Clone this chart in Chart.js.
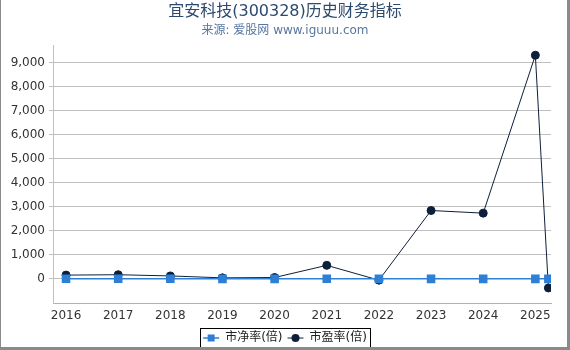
<!DOCTYPE html>
<html>
<head>
<meta charset="utf-8">
<script src="https://cdn.jsdelivr.net/npm/chart.js@4/dist/chart.umd.min.js"></script>
<style>
  html, body { margin: 0; padding: 0; background: #fff; }
  #wrap { position: relative; width: 570px; height: 350px; }
  #frame {
    position: absolute; left: 0; top: 0; width: 566px; height: 347px;
    border-left: 1px solid #8a8a8a; border-right: 3px solid #8a8a8a; border-bottom: 3px solid #8a8a8a;
    pointer-events: none;
  }
</style>
</head>
<body>
<div id="wrap">
  <canvas id="chart" width="570" height="350"></canvas>
  <div id="frame"></div>
</div>
<script>
// x positions (years); the last point is a partial year of 2025
const years = [2016, 2017, 2018, 2019, 2020, 2021, 2022, 2023, 2024, 2025, 2025.25];
const pbValues = [5, 6, 5, 4, 4, 6, 3, 4, 4, 4, 4];
const peValues = [160, 175, 125, 45, 60, 565, -50, 2845, 2735, 9300, -375];
const yTicks = [0, 1000, 2000, 3000, 4000, 5000, 6000, 7000, 8000, 9000];

const FONT = "'DejaVu Sans', 'Noto Sans CJK SC', sans-serif";

// draws a line through the legend markers and a box around the legend items
const legendDecor = {
  id: "legendDecor",
  afterDraw(chart) {
    const lg = chart.legend;
    if (!lg || !lg.legendHitBoxes || !lg.legendHitBoxes.length) return;
    const ctx = chart.ctx;
    const boxes = lg.legendHitBoxes;
    ctx.save();
    boxes.forEach((hb, i) => {
      const ds = chart.data.datasets[i];
      const cy = hb.top + hb.height / 2;
      ctx.strokeStyle = ds.borderColor;
      ctx.lineWidth = ds.borderWidth;
      ctx.beginPath();
      ctx.moveTo(hb.left, cy);
      ctx.lineTo(hb.left + 16, cy);
      ctx.stroke();
      ctx.fillStyle = ds.pointBackgroundColor;
      ctx.beginPath();
      if (ds.pointStyle === "rect") {
        ctx.rect(hb.left + 8 - 3.5, cy - 3.5, 7, 7);
      } else {
        ctx.arc(hb.left + 8, cy, 4, 0, Math.PI * 2);
      }
      ctx.fill();
    });
    const first = boxes[0];
    const last = boxes[boxes.length - 1];
    const left = Math.round(first.left - 3) + 0.5;
    const right = Math.round(last.left + last.width + 3) + 0.5;
    const top = Math.round(first.top - 4) + 0.5;
    const bottom = Math.round(first.top + first.height + 4) + 0.5;
    ctx.strokeStyle = "#000";
    ctx.lineWidth = 1;
    ctx.strokeRect(left, top, right - left, bottom - top);
    ctx.restore();
  }
};

new Chart(document.getElementById("chart"), {
  type: "line",
  data: {
    datasets: [
      {
        label: "市净率(倍)",
        data: years.map((x, i) => ({ x, y: pbValues[i] })),
        borderColor: "#2e7fd6",
        backgroundColor: "#2e7fd6",
        pointBackgroundColor: "#2e7fd6",
        pointBorderColor: "#2e7fd6",
        borderWidth: 1.5,
        pointStyle: "rect",
        pointRadius: 5,
        tension: 0
      },
      {
        label: "市盈率(倍)",
        data: years.map((x, i) => ({ x, y: peValues[i] })),
        borderColor: "#0e1f3a",
        backgroundColor: "#0e1f3a",
        pointBackgroundColor: "#0e1f3a",
        pointBorderColor: "#0e1f3a",
        borderWidth: 1,
        pointStyle: "circle",
        pointRadius: 4,
        tension: 0
      }
    ]
  },
  options: {
    responsive: false,
    animation: false,
    layout: { padding: { left: 0, right: 0, top: 0, bottom: -4 } },
    plugins: {
      title: {
        display: true,
        text: "宜安科技(300328)历史财务指标",
        color: "#2b4a6e",
        font: { family: FONT, size: 16, weight: "normal" },
        padding: { top: 2, bottom: 0 }
      },
      subtitle: {
        display: true,
        text: "来源: 爱股网 www.iguuu.com",
        color: "#5877a0",
        font: { family: FONT, size: 12, weight: "normal" },
        padding: { top: 2, bottom: 8 }
      },
      legend: {
        position: "bottom",
        labels: {
          color: "#222",
          font: { family: FONT, size: 12 },
          boxWidth: 16,
          boxHeight: 12,
          padding: 5,
          generateLabels(chart) {
            return chart.data.datasets.map((ds, i) => ({
              text: ds.label,
              fillStyle: "rgba(0,0,0,0)",
              strokeStyle: "rgba(0,0,0,0)",
              lineWidth: 0,
              datasetIndex: i,
              fontColor: "#222"
            }));
          }
        }
      },
      tooltip: { enabled: false }
    },
    scales: {
      x: {
        type: "linear",
        min: 2015.75,
        max: 2025.3,
        afterFit(scale) { scale.height = 24; },
        grid: { display: false, drawOnChartArea: false, drawTicks: true, tickLength: 5, color: "#b0b0b0" },
        border: { color: "#b0b0b0" },
        afterBuildTicks(scale) {
          scale.ticks = years.filter(v => Number.isInteger(v)).map(v => ({ value: v }));
        },
        ticks: {
          autoSkip: false,
          maxRotation: 0,
          color: "#333",
          font: { family: FONT, size: 12 },
          padding: 1,
          callback: v => String(v)
        }
      },
      y: {
        min: -1000,
        max: 9700,
        afterFit(scale) { scale.width = 53; },
        afterBuildTicks(scale) {
          scale.ticks = yTicks.map(v => ({ value: v }));
        },
        grid: { color: "#c0c0c0", tickLength: 4 },
        border: { color: "#c0c0c0" },
        ticks: {
          color: "#333",
          font: { family: FONT, size: 12 },
          padding: 4,
          callback: v => v.toLocaleString("en-US")
        }
      },
      // empty axis on the right, only to keep the plot clear of the frame
      yRight: {
        position: "right",
        min: -1000,
        max: 9700,
        afterFit(scale) { scale.width = 19; },
        grid: { display: false },
        border: { display: false },
        ticks: { display: false }
      }
    }
  },
  plugins: [legendDecor]
});
</script>
</body>
</html>
